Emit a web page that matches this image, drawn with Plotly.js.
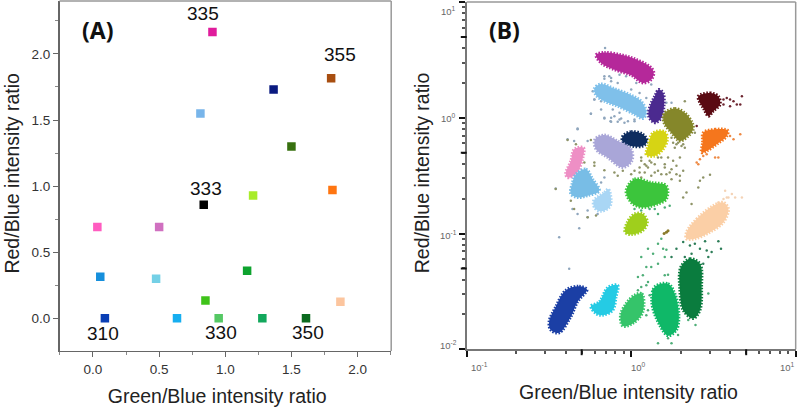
<!DOCTYPE html>
<html><head><meta charset="utf-8">
<script src="https://cdn.plot.ly/plotly-3.0.1.min.js"></script>
<style>html,body{margin:0;padding:0;background:#fff}#c{width:800px;height:407px}</style>
</head><body><div id="c"></div>
<script>
// Panel A: mean ratios for each dye mixture
const aX = [0.09,0.635,0.95,1.28,1.61,1.87,0.85,1.165,0.055,0.477,0.033,0.50,0.837,1.21,1.81,1.50,0.812,1.365,1.80,0.903];
const aY = [0,0,0,0,0,0.125,0.135,0.36,0.315,0.30,0.69,0.69,0.86,0.93,0.97,1.30,1.55,1.73,1.815,2.165];
const aColors = ['#0a3fb5','#16aef0','#55c864','#12a85c','#0b6a1f','#fcc59e','#3fc31a','#0ea32e','#168fdc','#74d0e6','#ff5cc0','#d070c0','#000000','#a8ec2a','#ff7510','#37700f','#78b5ea','#0a1a80','#a84e10','#e01c9c'];

// Panel B tick labels
const logTickExp=[-1,0,1];
const logTickExpY=[-2,-1,0,1];
const logTickText=e=>'10<sup>'+e+'</sup>';

// Panel B: cluster outlines and stray droplets as log10 of each ratio
const magentaX=[-0.214,-0.163,-0.061,0.020,0.112,0.137,0.122,0.071,0,-0.102,-0.183];
const magentaY=[0.544,0.564,0.544,0.510,0.444,0.395,0.330,0.301,0.367,0.415,0.473];
const skyTopX=[-0.224,-0.183,-0.102,0,0.061,0.092,0.071,0.020,-0.082,-0.163,-0.214];
const skyTopY=[0.252,0.292,0.252,0.195,0.143,0.043,-0.006,0.029,0.100,0.143,0.195];
const purpleX=[0.167,0.194,0.200,0.183,0.143,0.106,0.118,0.143];
const purpleY=[0.244,0.215,0.115,0,-0.043,0.014,0.115,0.186];
const oliveX=[0.204,0.265,0.326,0.371,0.377,0.347,0.296,0.245,0.204,0.194];
const oliveY=[0.043,0.080,0.043,-0.043,-0.100,-0.158,-0.201,-0.129,-0.057,0];
const maroonX=[0.408,0.479,0.530,0.540,0.499,0.469,0.438,0.418];
const maroonY=[0.186,0.215,0.186,0.115,0.057,0.014,0.086,0.129];
const orangeX=[0.438,0.510,0.587,0.581,0.520,0.459,0.428,0.434];
const orangeY=[-0.129,-0.100,-0.109,-0.158,-0.229,-0.287,-0.301,-0.215];
const navyX=[-0.051,0,0.071,0.098,0.071,0,-0.051];
const navyY=[-0.158,-0.120,-0.143,-0.201,-0.244,-0.244,-0.215];
const yellowX=[0.133,0.204,0.220,0.194,0.143,0.092,0.102];
const yellowY=[-0.129,-0.120,-0.186,-0.272,-0.330,-0.321,-0.244];
const lavenderX=[-0.220,-0.163,-0.082,0,0.004,-0.051,-0.143,-0.214];
const lavenderY=[-0.186,-0.149,-0.201,-0.272,-0.372,-0.430,-0.344,-0.272];
const pinkX=[-0.347,-0.290,-0.296,-0.336,-0.387,-0.398,-0.367];
const pinkY=[-0.272,-0.258,-0.358,-0.487,-0.516,-0.481,-0.372];
const skyX=[-0.336,-0.275,-0.234,-0.194,-0.265,-0.326,-0.367,-0.357];
const skyY=[-0.487,-0.444,-0.530,-0.630,-0.673,-0.688,-0.659,-0.559];
const paleX=[-0.228,-0.163,-0.139,-0.122,-0.133,-0.188,-0.224];
const paleY=[-0.716,-0.645,-0.616,-0.716,-0.774,-0.808,-0.774];
const greenX=[-0.031,0.020,0.122,0.214,0.214,0.163,0.061,0];
const greenY=[-0.630,-0.530,-0.559,-0.587,-0.702,-0.745,-0.774,-0.731];
const limeX=[0.020,0.071,0.098,0.071,0,-0.037,-0.024];
const limeY=[-0.831,-0.831,-0.903,-0.974,-1.009,-0.989,-0.903];
const peachX=[0.336,0.398,0.499,0.561,0.591,0.561,0.479,0.387,0.336];
const peachY=[-0.989,-0.874,-0.759,-0.731,-0.788,-0.903,-0.989,-1.046,-1.046];
const forestX=[0.302,0.357,0.418,0.428,0.418,0.377,0.316,0.296];
const forestY=[-1.289,-1.218,-1.261,-1.461,-1.662,-1.734,-1.662,-1.490];
const emeraldX=[0.143,0.224,0.269,0.290,0.275,0.224,0.173,0.126];
const emeraldY=[-1.461,-1.433,-1.533,-1.719,-1.834,-1.883,-1.791,-1.605];
const midGreenX=[0.020,0.065,0.071,0.010,-0.051,-0.065,-0.031];
const midGreenY=[-1.533,-1.519,-1.676,-1.777,-1.799,-1.705,-1.605];
const cyanX=[-0.143,-0.082,-0.092,-0.112,-0.173,-0.214,-0.245,-0.194];
const cyanY=[-1.467,-1.447,-1.547,-1.662,-1.705,-1.691,-1.628,-1.590];
const blueX=[-0.398,-0.316,-0.269,-0.326,-0.367,-0.438,-0.489,-0.499,-0.459];
const blueY=[-1.490,-1.456,-1.484,-1.590,-1.719,-1.857,-1.834,-1.762,-1.633];

const clusters=[
 [magentaX,magentaY,'#b5289a'],[skyTopX,skyTopY,'#7fc0ea'],[purpleX,purpleY,'#4b2a8f'],[oliveX,oliveY,'#85872a'],
 [maroonX,maroonY,'#5a0a12'],[orangeX,orangeY,'#f5761d'],[navyX,navyY,'#0e2d5f'],[yellowX,yellowY,'#d6d414'],
 [lavenderX,lavenderY,'#a9a6d8'],[pinkX,pinkY,'#ee8fc5'],[skyX,skyY,'#78bde6'],[paleX,paleY,'#a9d6f5'],
 [greenX,greenY,'#3cc53c'],[limeX,limeY,'#9fcf1c'],[peachX,peachY,'#fbcfa6'],[forestX,forestY,'#0a7c3e'],
 [emeraldX,emeraldY,'#0fb868'],[midGreenX,midGreenY,'#35c46a'],[cyanX,cyanY,'#25cbe4'],[blueX,blueY,'#1b3fa5']
];

const strayGreyX=[-0.159,-0.122,-0.163,-0.082,-0.133,-0.224,-0.183,-0.102,-0.061,-0.122,-0.082,-0.163,-0.245,-0.326,-0.041,0.020,-0.347,-0.387,-0.265,-0.459,-0.183,-0.163,-0.357,-0.326,-0.265,-0.316,-0.204,-0.265,-0.377,-0.438,
 -0.163,-0.122,-0.183,-0.112,-0.071,-0.122,-0.071,-0.126,-0.020,-0.163,-0.245,-0.326,0.020,-0.224,-0.234,0.214,0.245,-0.010,-0.051,0,0.051,0.092,0.122,0.031,-0.031,-0.071];
const strayGreyY=[0.602,0.315,0.338,0.301,0.358,0.158,0.143,0.014,-0.006,-0.034,-0.034,0,0.034,-0.092,-0.043,-0.029,-0.201,-0.186,-0.201,-0.610,-0.559,-0.516,-0.788,-0.831,-0.860,-0.954,-0.831,-0.802,-1.304,-1.032,
 0.358,0.344,0.072,0.072,0.043,0,-0.014,-0.029,-0.029,-0.006,0.034,-0.100,-0.014,0.158,0.229,0.129,0.129,0.092,0.100,0.244,0.215,0.172,0.287,0.301,0.358,0.372];
const strayOliveX=[0.112,0.082,0.102,0.061,0.143,0.183,0.224,0.255,0.296,0.326,0.204,0.245,0.275,0.316,0.183,0.143,0.051,0.020,0.061,0.245,0.296,0.418,0.438,0.479,0.408,0.336,0.367,0.316,0.285,0.265,0.316,0.387,0.326,0.245,0.275,0.306,0.255,
 0.061,0.092,0.122,0.163,0.204,0.234,0.275,0.296,0.214,0.163,0.122,0.082,0.051,0,-0.051,-0.082,-0.102,-0.224,-0.224,-0.163,-0.285,-0.336,-0.387,-0.245,-0.459,-0.367,-0.347,-0.265,-0.214];
const strayOliveY=[-0.372,-0.401,-0.430,-0.344,-0.401,-0.344,-0.344,-0.372,-0.344,-0.258,-0.430,-0.444,-0.487,-0.458,-0.487,-0.473,-0.473,-0.458,-0.516,-0.530,-0.544,-0.544,-0.516,-0.493,-0.602,-0.645,-0.745,-0.688,-0.215,-0.258,-0.229,-0.129,0.143,-0.172,-0.229,-0.244,-0.215,
 -0.372,-0.415,-0.387,-0.344,-0.401,-0.473,-0.415,-0.501,-0.487,-0.458,-0.501,-0.473,-0.430,-0.487,-0.458,-0.501,-0.473,-0.387,-0.415,-0.453,-0.387,-0.229,-0.192,-0.192,-0.616,-0.716,-0.788,-0.860,-0.845];
const strayGreenX=[0.020,0.061,0.112,0.143,0.204,0.163,0.234,0.183,0.163,0.133,0.102,0.061,0.194,0.214,0.204,0.163,0.092,0.122,0.071,0.041,0.204,0.224,0.102,0.133,0.092,0.061,0.112,0.041,0.092,0.102,0.163,0.245,0.285,0.224,0.391,0.347,0.469];
const strayGreenY=[-0.788,-0.802,-0.788,-0.788,-0.774,-0.831,-0.759,-1.046,-1.089,-1.175,-1.132,-1.203,-1.132,-1.140,-1.203,-1.261,-1.289,-1.289,-1.361,-1.375,-1.361,-1.355,-1.418,-1.490,-1.447,-1.461,-1.533,-1.490,-1.705,-1.662,-1.948,-1.948,-1.877,-1.905,-1.791,-1.748,-1.519];
const strayForestX=[0.387,0.449,0.530,0.489,0.546,0.459,0.418,0.367,0.326,0.275,0.245,0.438,0.469,0.316,0.357];
const strayForestY=[-1.089,-1.066,-1.066,-1.160,-1.132,-1.146,-1.132,-1.175,-1.203,-1.132,-1.203,-1.261,-1.203,-1.074,-1.103];
const strayPeachX=[0.571,0.591,0.632,0.612,0.673,0.581,0.561,0.530];
const strayPeachY=[-0.630,-0.688,-0.688,-0.659,-0.688,-0.688,-0.702,-0.731];
const strayMaroonX=[0.561,0.601,0.622,0.663,0.673,0.642,0.601,0.561,0.581,0.398];
const strayMaroonY=[0.158,0.158,0.143,0.115,0.186,0.115,0.100,0.115,0.172,-0.072];
const strayOrangeX=[0.408,0.418,0.438,0.459,0.398,0.601,0.622,0.663,0.510,0.530,0.449];
const strayOrangeY=[-0.401,-0.358,-0.330,-0.315,-0.387,-0.158,-0.186,-0.143,-0.344,-0.344,-0.272];
const strays=[
 [strayGreyX,strayGreyY,'#8fa6bd'],[strayOliveX,strayOliveY,'#8f9468'],[strayGreenX,strayGreenY,'#4fae78'],
 [strayForestX,strayForestY,'#2d7d58'],[strayPeachX,strayPeachY,'#f4d3b6'],[strayMaroonX,strayMaroonY,'#6d2530'],[strayOrangeX,strayOrangeY,'#ee8a45']
];
const smallBrownX=[0.200,0.214,0.224];
const smallBrownY=[-1.000,-0.989,-0.975];

const pow10=a=>a.map(v=>Math.pow(10,v));
const traces=[{type:'scatter',mode:'markers',x:aX,y:aY,xaxis:'x',yaxis:'y',
  marker:{symbol:'square',size:8.5,color:aColors,line:{width:0}}}];
strays.forEach(s=>traces.push({type:'scatter',mode:'markers',x:pow10(s[0]),y:pow10(s[1]),xaxis:'x2',yaxis:'y2',
  marker:{size:2.5,color:s[2]}}));
clusters.forEach(c=>traces.push({type:'scatter',mode:'lines',fill:'toself',fillcolor:c[2],
  x:pow10(c[0].concat(c[0][0])),y:pow10(c[1].concat(c[1][0])),xaxis:'x2',yaxis:'y2',
  line:{color:c[2],width:3,dash:'1.5px,1.5px',shape:'spline',smoothing:1}}));
traces.push({type:'scatter',mode:'markers',x:pow10(smallBrownX),y:pow10(smallBrownY),xaxis:'x2',yaxis:'y2',marker:{size:3,color:'#8a7a2a'}});

const NB='\u00A0';
const tickFontA={family:'Liberation Sans, Arial, sans-serif',size:13.5,color:'#333'};
const tickFontB={family:'Liberation Sans, Arial, sans-serif',size:9.5,color:'#666'};
const titleFont={family:'Liberation Sans, Arial, sans-serif',size:19.5,color:'#222'};
const labelFont={family:'Liberation Sans, Arial, sans-serif',size:19,color:'#111'};
const panelFont={family:'Noto Sans, sans-serif',size:23,color:'#111'};
const linAxis={showgrid:false,zeroline:false,showline:true,linecolor:'#666',linewidth:1.5,ticks:'outside',ticklen:5,tickcolor:'#666',
  tickfont:tickFontA,tickvals:[0,0.5,1,1.5,2],ticktext:['0.0','0.5','1.0','1.5','2.0'],
  minor:{dtick:0.25,ticks:'outside',ticklen:3,tickcolor:'#888',showgrid:false}};
const logAxis={type:'log',showgrid:false,zeroline:false,showline:true,linecolor:'#777',linewidth:1.5,ticks:'outside',ticklen:6,tickwidth:2,tickcolor:'#111',
  showticklabels:false,minor:{dtick:'D1',ticks:'outside',ticklen:3,tickcolor:'#555',showgrid:false}};
const label=(t,x,y)=>({text:t,x:x,y:y,xref:'x',yref:'y',showarrow:false,font:labelFont,xanchor:'center',yanchor:'middle'});
const xTickShift={'-1':13,'0':7,'1':-8};
const yTickShift={'-2':4,'-1':-1,'0':0,'1':-9};
const logTickAnnotations=logTickExp.map(e=>({text:logTickText(e),x:e,y:0.0983,xref:'x2',yref:'paper',xshift:xTickShift[e],
   xanchor:'center',yanchor:'middle',showarrow:false,font:tickFontB}))
 .concat(logTickExpY.map(e=>({text:logTickText(e),x:0.561,y:e,xref:'paper',yref:'y2',yshift:yTickShift[e],
   xanchor:'center',yanchor:'middle',showarrow:false,font:tickFontB})));
const layout={width:800,height:407,margin:{l:0,r:0,t:0,b:0},paper_bgcolor:'#fff',plot_bgcolor:'#fff',showlegend:false,
  xaxis:Object.assign({},linAxis,{domain:[0.0744,0.489],range:[-0.253,2.254],anchor:'y',
    title:{text:'Green/Blue intensity <span>ratio'+NB+NB+NB+'</span>',font:titleFont,standoff:14}}),
  yaxis:Object.assign({},linAxis,{domain:[0.1376,0.9975],range:[-0.247,2.4],anchor:'x',
    title:{text:'<span>'+NB+'Red/Blue</span> intensity ratio',font:titleFont,standoff:6}}),
  xaxis2:Object.assign({},logAxis,{domain:[0.5834,0.9946],range:[-1,1],anchor:'y2',
    tickvals:[0.1,1,10],
    title:{text:'Green/Blue intensity <span>ratio'+NB+'</span>',font:titleFont,standoff:29}}),
  yaxis2:Object.assign({},logAxis,{domain:[0.1418,0.995],range:[-2,1],anchor:'x2',
    tickvals:[0.01,0.1,1,10],
    title:{text:'<span>'+NB+'Red/Blue</span> intensity ratio',font:titleFont,standoff:24}}),
  shapes:[
   {type:'line',xref:'paper',yref:'paper',x0:0.0744,x1:0.489,y0:0.9975,y1:0.9975,line:{color:'#999',width:1.5}},
   {type:'line',xref:'paper',yref:'paper',x0:0.489,x1:0.489,y0:0.1376,y1:0.9975,line:{color:'#999',width:1.5}},
   {type:'line',xref:'paper',yref:'paper',x0:0.5834,x1:0.9946,y0:0.995,y1:0.995,line:{color:'#999',width:1.5}},
   {type:'line',xref:'paper',yref:'paper',x0:0.9946,x1:0.9946,y0:0.1418,y1:0.995,line:{color:'#999',width:1.5}},
   {type:'line',xref:'x2',yref:'y2 domain',x0:0.5,x1:0.5,y0:0,y1:-0.017,line:{color:'#111',width:2}},
   {type:'line',xref:'x2',yref:'y2 domain',x0:5,x1:5,y0:0,y1:-0.017,line:{color:'#111',width:2}},
   {type:'line',xref:'x2 domain',yref:'y2',y0:0.05,y1:0.05,x0:0,x1:-0.018,line:{color:'#111',width:2}},
   {type:'line',xref:'x2 domain',yref:'y2',y0:0.5,y1:0.5,x0:0,x1:-0.018,line:{color:'#111',width:2}},
   {type:'line',xref:'x2 domain',yref:'y2',y0:5,y1:5,x0:0,x1:-0.018,line:{color:'#111',width:2}}
  ],
  annotations:[
   label('335',0.832,2.308),label('355',1.868,1.998),label('333',0.854,0.985),
   label('310',0.076,-0.112),label('330',0.968,-0.104),label('350',1.626,-0.104),
   {text:'<b>(A)</b>',x:0.1225,y:0.926,xref:'paper',yref:'paper',xanchor:'center',yanchor:'middle',showarrow:false,font:panelFont},
   {text:'<b>(B)</b>',x:0.631,y:0.926,xref:'paper',yref:'paper',xanchor:'center',yanchor:'middle',showarrow:false,font:panelFont}
  ].concat(logTickAnnotations)};
Plotly.newPlot('c',traces,layout,{displayModeBar:false,staticPlot:true});
</script></body></html>
